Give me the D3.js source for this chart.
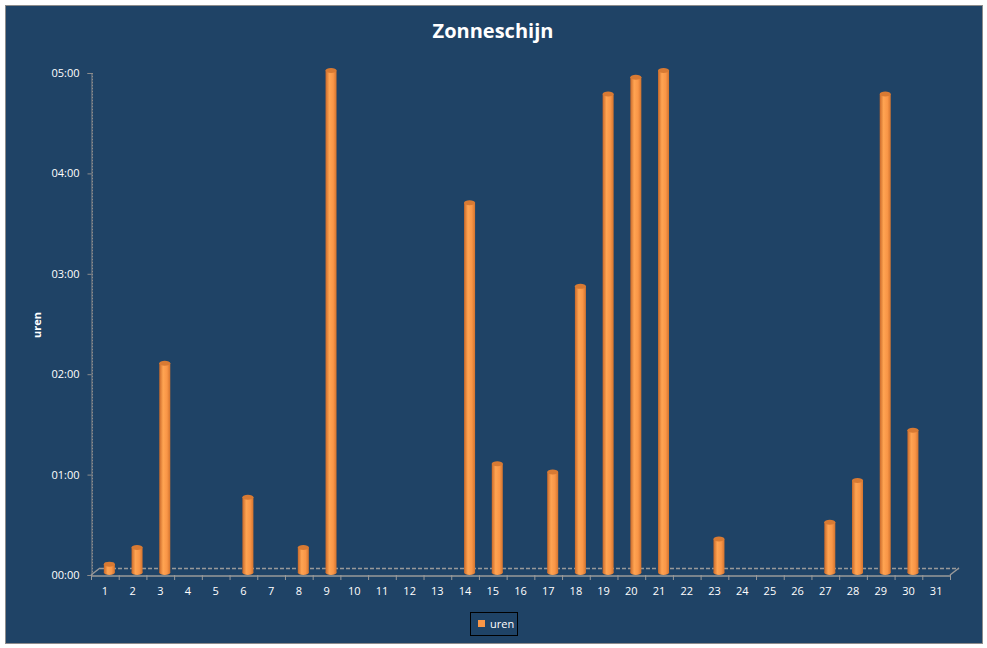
<!DOCTYPE html>
<html>
<head>
<meta charset="utf-8">
<script src="https://cdn.jsdelivr.net/npm/d3@7"></script>
<style>
  body { margin: 0; background: #ffffff; }
  text { font-family: "Open Sans", "DejaVu Sans", sans-serif; }
</style>
</head>
<body>
<script>
// Data: sunshine per day, in minutes
const days = ["1","2","3","4","5","6","7","8","9","10","11","12","13","14","15","16",
              "17","18","19","20","21","22","23","24","25","26","27","28","29","30","31"];
const minutes = [5, 15, 125, 0, 0, 45, 0, 15, 300, 0, 0, 0, 0, 221, 65, 0,
                 60, 171, 286, 296, 300, 0, 20, 0, 0, 0, 30, 55, 286, 85, 0];
const yTicks = [0, 60, 120, 180, 240, 300];
const seriesName = "uren";
const chartTitle = "Zonneschijn";

const width = 987, height = 648;
const plotLeft = 91, plotRight = 950, plotTop = 73, plotBottom = 575;
const depthX = 9, depthY = -7;

let svg = d3.select("body").append("svg")
    .attr("width", width)
    .attr("height", height)

// gradient for the cylinders
let defs = svg.append("defs");
let grad = defs.append("linearGradient").attr("id", "cyl")
    .attr("x1", "0%").attr("x2", "100%").attr("y1", "0%").attr("y2", "0%");
grad.append("stop").attr("offset", "0%").attr("stop-color", "#c9692a");
grad.append("stop").attr("offset", "35%").attr("stop-color", "#ffa452");
grad.append("stop").attr("offset", "70%").attr("stop-color", "#f99647");
grad.append("stop").attr("offset", "100%").attr("stop-color", "#d3742f");

// chart area
svg.append("rect")
    .attr("x", 5.5).attr("y", 5.5)
    .attr("width", 977).attr("height", 638)
    .attr("fill", "#1f4366")
    .attr("stroke", "#8c8c8c")
    .attr("stroke-width", 1)

svg.append("text")
    .attr("x", 493).attr("y", 38)
    .attr("text-anchor", "middle")
    .attr("fill", "#ffffff")
    .style("font-size", "20px")
    .style("font-weight", "bold")
    .text(chartTitle)

let xScale = d3.scaleBand()
    .domain(days)
    .range([plotLeft, plotRight])
let yScale = d3.scaleLinear()
    .domain([0, 300])
    .range([plotBottom, plotTop])

const fmt = m => String(Math.floor(m / 60)).padStart(2, "0") + ":" + String(m % 60).padStart(2, "0");

// floor (3D)
let floor = svg.append("g").attr("stroke", "#9a9a9a").attr("fill", "none");
floor.append("line")
    .attr("x1", plotLeft + depthX).attr("x2", plotRight + depthX)
    .attr("y1", plotBottom + depthY + 0.5).attr("y2", plotBottom + depthY + 0.5)
    .attr("stroke-width", 1.5)
    .attr("stroke-dasharray", "4,2")
floor.append("line")
    .attr("x1", plotLeft).attr("x2", plotLeft + depthX)
    .attr("y1", plotBottom).attr("y2", plotBottom + depthY)
    .attr("stroke-width", 1.5)
floor.append("line")
    .attr("x1", plotRight).attr("x2", plotRight + depthX)
    .attr("y1", plotBottom).attr("y2", plotBottom + depthY)
    .attr("stroke-width", 1.5)

// y axis
let yAxis = svg.append("g")
    .attr("transform", `translate(${plotLeft + 0.5},0)`)
    .call(d3.axisLeft(yScale).tickValues(yTicks).tickFormat(fmt).tickSize(4).tickPadding(8))
yAxis.select(".domain").attr("stroke", "#8c8c8c")
yAxis.selectAll(".tick line").attr("stroke", "#8c8c8c")
yAxis.selectAll(".tick text").attr("fill", "#ffffff").style("font-size", "11px")
// small dotted marks along the axis
svg.append("line")
    .attr("x1", plotLeft + 1.5).attr("x2", plotLeft + 1.5)
    .attr("y1", plotTop).attr("y2", plotBottom)
    .attr("stroke", "#8c8c8c")
    .attr("stroke-dasharray", "1,2")

svg.append("text")
    .attr("transform", "translate(41,325) rotate(-90)")
    .attr("text-anchor", "middle")
    .attr("fill", "#ffffff")
    .style("font-size", "11px")
    .style("font-weight", "bold")
    .text(seriesName)

// x axis
let xAxis = svg.append("g")
    .attr("transform", `translate(0,${plotBottom + 0.5})`)
    .call(d3.axisBottom(xScale).tickSize(0).tickPadding(12))
xAxis.select(".domain").attr("stroke", "#9a9a9a").attr("stroke-width", 1.5)
xAxis.selectAll(".tick text").attr("fill", "#ffffff").style("font-size", "11px")
svg.append("g").selectAll(".xtick")
    .data(days.concat(["end"])).enter()
        .append("line")
    .attr("x1", (d, i) => plotLeft + i * xScale.bandwidth() + 0.5)
    .attr("x2", (d, i) => plotLeft + i * xScale.bandwidth() + 0.5)
    .attr("y1", plotBottom).attr("y2", plotBottom + 5)
    .attr("stroke", "#9a9a9a")

// cylinders
const barW = 11, ry = 2.5;
const baseY = yScale(0) - 2.5;
const cx = d => xScale(d) + xScale.bandwidth() / 2 + 4.5;
let bars = svg.append("g");
let data = days.map((d, i) => ({ day: d, value: minutes[i] })).filter(d => d.value > 0);

let cyl = bars.selectAll(".cyl")
    .data(data).enter()
        .append("g")
    .attr("class", "cyl")
cyl.append("ellipse")
    .attr("cx", d => cx(d.day))
    .attr("cy", baseY)
    .attr("rx", barW / 2).attr("ry", ry)
    .attr("fill", "url(#cyl)")
cyl.append("rect")
    .attr("x", d => cx(d.day) - barW / 2)
    .attr("y", d => yScale(d.value) - 2.5)
    .attr("width", barW)
    .attr("height", d => baseY - (yScale(d.value) - 2.5))
    .attr("fill", "url(#cyl)")
cyl.append("ellipse")
    .attr("cx", d => cx(d.day))
    .attr("cy", d => yScale(d.value) - 2.5)
    .attr("rx", barW / 2).attr("ry", ry)
    .attr("fill", "#d87a33")

// legend
let legend = svg.append("g").attr("transform", "translate(470,612)");
legend.append("rect")
    .attr("x", 0.5).attr("y", 0.5)
    .attr("width", 47).attr("height", 23)
    .attr("fill", "none")
    .attr("stroke", "#000000")
legend.append("rect")
    .attr("x", 8).attr("y", 8)
    .attr("width", 7).attr("height", 7)
    .attr("fill", "#f99647")
legend.append("text")
    .attr("x", 20).attr("y", 16)
    .attr("fill", "#ffffff")
    .style("font-size", "11px")
    .text(seriesName)
</script>
</body>
</html>
